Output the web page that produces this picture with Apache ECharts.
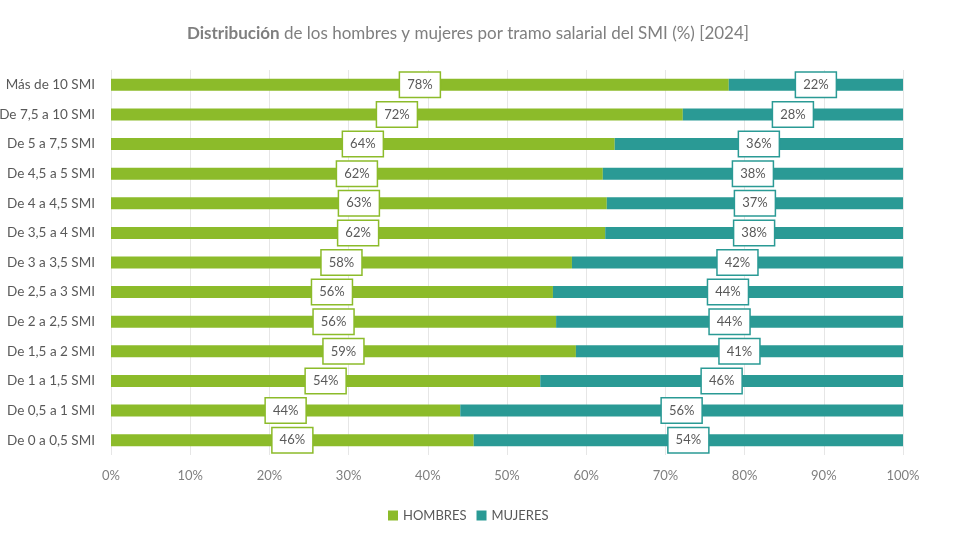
<!DOCTYPE html>
<html>
<head>
<meta charset="utf-8">
<script src="https://cdn.jsdelivr.net/npm/echarts@6/dist/echarts.min.js"></script>
<style>
  html, body { margin: 0; padding: 0; background: #fff; }
  #chart { width: 980px; height: 546px; }
</style>
</head>
<body>
<div id="chart"></div>
<script>
// tramos salariales, de abajo hacia arriba
const categories = [
  "De 0 a 0,5 SMI", "De 0,5 a 1 SMI", "De 1 a 1,5 SMI", "De 1,5 a 2 SMI",
  "De 2 a 2,5 SMI", "De 2,5 a 3 SMI", "De 3 a 3,5 SMI", "De 3,5 a 4 SMI",
  "De 4 a 4,5 SMI", "De 4,5 a 5 SMI", "De 5 a 7,5 SMI", "De 7,5 a 10 SMI",
  "Más de 10 SMI"
];
const hombres = [45.8, 44.1, 54.2, 58.7, 56.2, 55.8, 58.2, 62.4, 62.6, 62.1, 63.6, 72.2, 78.0];
const mujeres = [54.2, 55.9, 45.8, 41.3, 43.8, 44.2, 41.8, 37.6, 37.4, 37.9, 36.4, 27.8, 22.0];

const GREEN = "#8cbb2a";
const TEAL = "#2a9a95";
const FONT = "Lato";

function seriesFor(name, data, color) {
  return {
    name: name,
    type: "bar",
    stack: "total",
    data: data,
    barWidth: 12,
    itemStyle: { color: color },
    label: {
      show: true,
      position: "inside",
      formatter: p => Math.round(p.value) + "%",
      color: "#595959",
      fontFamily: FONT,
      fontSize: 13,
      backgroundColor: "#fff",
      borderColor: color,
      borderWidth: 1.5,
      padding: [6, 7, 5, 7]
    }
  };
}

const chart = echarts.init(document.getElementById("chart"));
chart.setOption({
  animation: false,
  title: {
    text: "{b|Distribución} de los hombres y mujeres por tramo salarial del SMI (%) [2024]",
    left: 463,
    textAlign: "center",
    top: 20,
    textStyle: {
      fontFamily: FONT,
      fontSize: 17,
      fontWeight: "normal",
      color: "#7f7f7f",
      rich: {
        b: { fontFamily: FONT, fontSize: 17, fontWeight: "bold", color: "#7f7f7f" }
      }
    }
  },
  legend: {
    bottom: 19,
    left: 383,
    itemWidth: 10,
    itemHeight: 10,
    itemGap: 10,
    icon: "rect",
    textStyle: { fontFamily: FONT, fontSize: 13, color: "#595959" },
    data: ["HOMBRES", "MUJERES"]
  },
  grid: { left: 111, right: 77, top: 70, bottom: 91, outerBoundsMode: "none", containLabel: false },
  xAxis: {
    type: "value",
    min: 0,
    max: 100,
    interval: 10,
    axisLabel: {
      formatter: "{value}%",
      fontFamily: FONT,
      fontSize: 13,
      color: "#7f7f7f",
      margin: 14
    },
    axisLine: { show: false },
    axisTick: { show: false },
    splitLine: { lineStyle: { color: "#e6e6e6" } }
  },
  yAxis: {
    type: "category",
    data: categories,
    axisLine: { show: false },
    axisTick: { show: false },
    axisLabel: { fontFamily: FONT, fontSize: 13.5, color: "#595959", margin: 16 }
  },
  series: [
    seriesFor("HOMBRES", hombres, GREEN),
    seriesFor("MUJERES", mujeres, TEAL)
  ]
});
</script>
</body>
</html>
